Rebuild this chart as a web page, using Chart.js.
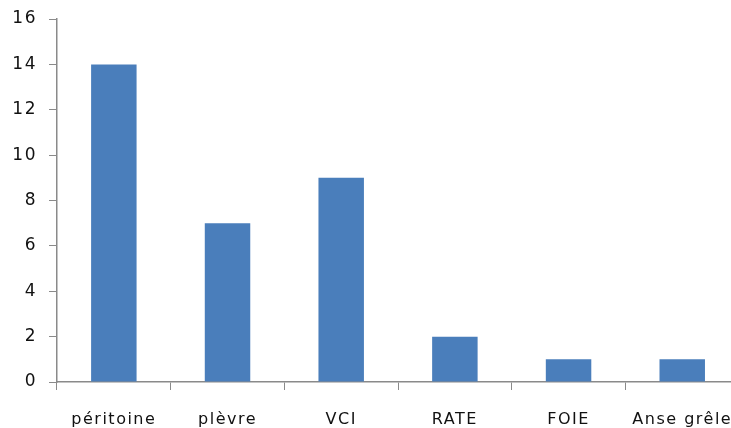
<!DOCTYPE html>
<html>
<head>
<meta charset="utf-8">
<script src="https://cdn.jsdelivr.net/npm/chart.js@4.4.1/dist/chart.umd.min.js"></script>
<style>
  html, body { margin: 0; padding: 0; background: #fff; overflow: hidden; }
  #wrap { width: 731px; height: 428px; overflow: hidden; position: relative; }
  canvas { display: block; }
</style>
</head>
<body>
<div id="wrap"><canvas id="chart" width="745" height="428"></canvas></div>
<script>
// Localisations and counts
const categories = ['péritoine', 'plèvre', 'VCI', 'RATE', 'FOIE', 'Anse grêle'];
const counts = [14, 7, 9, 2, 1, 1];
const yTicks = [0, 2, 4, 6, 8, 10, 12, 14, 16];

const axisColor = '#8a8a8a';
const textColor = '#111111';

// Slightly spaced lettering for the axis labels
const spacing = {
  id: 'spacing',
  beforeDraw(chart) { chart.ctx.letterSpacing = '1.5px'; }
};

new Chart(document.getElementById('chart'), {
  type: 'bar',
  data: {
    labels: categories,
    datasets: [{
      data: counts,
      backgroundColor: '#4a7ebb',
      borderWidth: 0,
      barPercentage: 0.4,
      categoryPercentage: 1.0
    }]
  },
  options: {
    responsive: false,
    animation: false,
    layout: { padding: { top: 19, right: 4, left: 0, bottom: 0 } },
    plugins: { legend: { display: false }, tooltip: { enabled: false } },
    scales: {
      x: {
        grid: { display: true, drawOnChartArea: false, color: axisColor, tickLength: 8, offset: true },
        border: { color: axisColor, width: 1.5 },
        ticks: { color: textColor, font: { family: 'DejaVu Sans', size: 16 }, padding: 20, maxRotation: 0 },
        afterFit(scale) { scale.height = 46; }
      },
      y: {
        min: 0, max: 16,
        afterBuildTicks(scale) { scale.ticks = yTicks.map(v => ({ value: v })); },
        grid: { display: true, drawOnChartArea: false, color: axisColor, tickLength: 8 },
        border: { color: axisColor, width: 1.5 },
        ticks: { color: textColor, font: { family: 'DejaVu Sans', size: 17 }, padding: 12 },
        afterFit(scale) { scale.width = 57; scale.paddingTop = 0; scale.paddingBottom = 0; }
      }
    }
  },
  plugins: [spacing]
});
</script>
</body>
</html>
